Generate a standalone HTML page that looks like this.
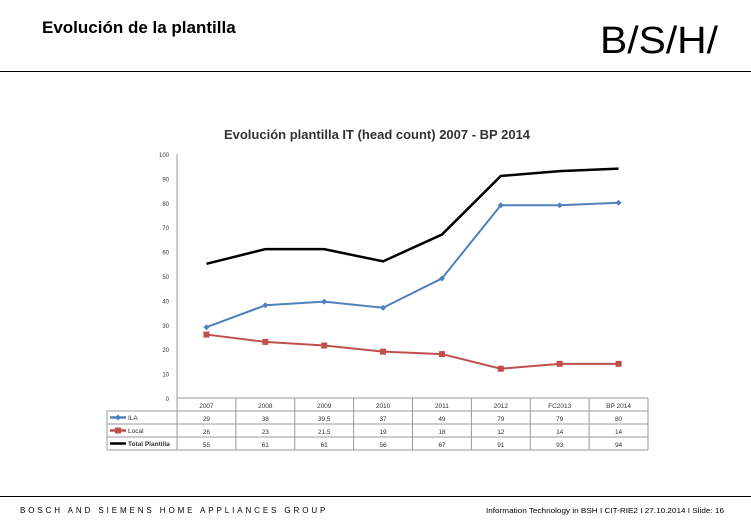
<!DOCTYPE html>
<html><head><meta charset="utf-8"><style>
body{margin:0;background:#fff;width:751px;height:525px;overflow:hidden;font-family:"Liberation Sans",sans-serif}
</style></head><body>
<svg width="751" height="525" xmlns="http://www.w3.org/2000/svg" font-family="Liberation Sans, sans-serif">
<text x="42" y="33" font-size="17" font-weight="bold">Evolución de la plantilla</text>
<text x="600" y="53" font-size="38" textLength="118" lengthAdjust="spacingAndGlyphs">B/S/H/</text>
<line x1="0" y1="71.5" x2="751" y2="71.5" stroke="#000" stroke-width="1"/>
<line x1="0" y1="496.5" x2="751" y2="496.5" stroke="#000" stroke-width="1"/>
<text x="20" y="513" font-size="8" letter-spacing="2.9">BOSCH AND SIEMENS HOME APPLIANCES GROUP</text>
<text x="486" y="513" font-size="7.5" textLength="238" lengthAdjust="spacingAndGlyphs">Information Technology in BSH I CIT-RIE2 I 27.10.2014 I Slide: 16</text>
<text x="377" y="139" font-size="13" font-weight="bold" text-anchor="middle" fill="#333">Evolución plantilla IT (head count) 2007 - BP 2014</text>
<g id="chart"></g>
</svg>
<script>
const categories=["2007","2008","2009","2010","2011","2012","FC2013","BP 2014"];
const ila=[29,38,39.5,37,49,79,79,80];
const local=[26,23,21.5,19,18,12,14,14];
const total=[55,61,61,56,67,91,93,94];
const ilaLabels=["29","38","39,5","37","49","79","79","80"];
const localLabels=["26","23","21,5","19","18","12","14","14"];
const totalLabels=["55","61","61","56","67","91","93","94"];
const yTicks=[0,10,20,30,40,50,60,70,80,90,100];
const NS="http://www.w3.org/2000/svg";
const g=document.getElementById('chart');
const x0=177,x1=648,yTop=154,yBot=398;
const cw=(x1-x0)/categories.length;
const X=i=>x0+cw*(i+0.5);
const Y=v=>yBot-(v/100)*(yBot-yTop);
function mk(t,a){const e=document.createElementNS(NS,t);for(const k in a)e.setAttribute(k,a[k]);g.appendChild(e);return e;}
let ax=mk('line',{x1:x0,y1:yTop,x2:x0,y2:yBot,stroke:'#999'});


yTicks.forEach(t=>{const e=mk('text',{x:169,y:Y(t)+3,'font-size':6,'text-anchor':'end',fill:'#333'});e.textContent=t;

});
function series(vals,color,w,marker,name){
 const p=mk('polyline',{points:vals.map((v,i)=>X(i)+','+Y(v)).join(' '),fill:'none',stroke:color,'stroke-width':w});
 
 
 vals.forEach((v,i)=>{let m;
  if(marker==='d')m=mk('polygon',{points:`${X(i)},${Y(v)-3} ${X(i)+3},${Y(v)} ${X(i)},${Y(v)+3} ${X(i)-3},${Y(v)}`,fill:color});
  else if(marker==='s')m=mk('rect',{x:X(i)-3,y:Y(v)-3,width:6,height:6,fill:color});
  if(m){
  }
 });
}
series(total,'#000',2.5,null,'total-plantilla');
series(ila,'#4f81bd',2,'d','ila');
series(local,'#c0504d',2,'s','local');
const rows=[398,411,424,437,450];
const tl=107;
mk('line',{x1:x0,y1:398,x2:x1,y2:398,stroke:'#999'});
for(let r=1;r<rows.length;r++){mk('line',{x1:tl,y1:rows[r],x2:x1,y2:rows[r],stroke:'#999'});}
mk('line',{x1:tl,y1:411,x2:tl,y2:450,stroke:'#999'});
for(let i=0;i<=categories.length;i++){mk('line',{x1:x0+cw*i,y1:398,x2:x0+cw*i,y2:450,stroke:'#999'});}
categories.forEach((c,i)=>{const e=mk('text',{x:X(i),y:408,'font-size':6.5,'text-anchor':'middle',fill:'#333'});e.textContent=c;

});
const labs=[ilaLabels,localLabels,totalLabels];
labs.forEach((arr,r)=>arr.forEach((v,i)=>{const e=mk('text',{x:X(i),y:rows[r+1]+10,'font-size':6.5,'text-anchor':'middle',fill:'#333'});e.textContent=v;

}));
const leg=[['ILA','#4f81bd','d'],['Local','#c0504d','s'],['Total Plantilla','#000','']];
leg.forEach((l,r)=>{const cy=rows[r+1]+6.5;
 mk('line',{x1:110,y1:cy,x2:126,y2:cy,stroke:l[1],'stroke-width':2.5});
 if(l[2]==='d')mk('polygon',{points:`118,${cy-3} 121,${cy} 118,${cy+3} 115,${cy}`,fill:l[1]});
 if(l[2]==='s')mk('rect',{x:115,y:cy-3,width:6,height:6,fill:l[1]});
 const e=mk('text',{x:128,y:cy+2.5,'font-size':6.5,fill:'#333','font-weight':r===2?'bold':'normal'});e.textContent=l[0];
 
 
});
</script>
</body></html>
